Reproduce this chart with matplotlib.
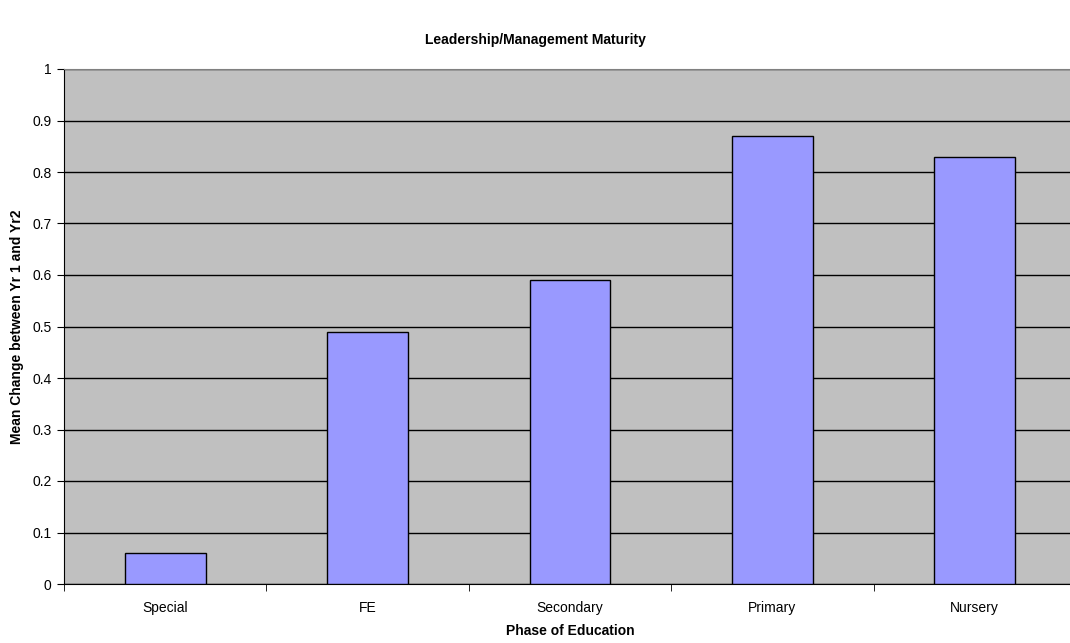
import numpy as np
import matplotlib
matplotlib.use("Agg")
import matplotlib.pyplot as plt

categories = ["Special", "FE", "Secondary", "Primary", "Nursery"]
values = [0.06, 0.49, 0.59, 0.87, 0.83]

plt.rcParams['font.family'] = ['Liberation Sans', 'DejaVu Sans']

fig = plt.figure(figsize=(10.7, 6.43), dpi=100)
ax = fig.add_axes([64 / 1070, 59 / 643, 1012 / 1070, 515 / 643])
ax.set_facecolor("#c0c0c0")

x = np.arange(len(categories))
ax.bar(x, values, width=0.4, color="#9999ff", edgecolor="black", linewidth=1, zorder=3)

ax.set_xlim(-0.5, len(categories) - 0.5)
ax.set_ylim(0, 1)
ax.set_yticks(np.arange(0, 1.01, 0.1))
ax.set_yticklabels(["0"] + [f"{v:.1f}" for v in np.arange(0.1, 0.95, 0.1)] + ["1"], fontsize=10)
ax.yaxis.grid(True, color="black", linewidth=1, zorder=1)

# category labels centered, ticks at boundaries
ax.set_xticks(x)
ax.set_xticklabels(categories, fontsize=10)
ax.tick_params(axis="x", length=0, pad=12)
ax.set_xticks(np.arange(-0.5, len(categories), 1.0), minor=True)
ax.tick_params(axis="x", which="minor", length=5, direction="out", color="black")
ax.tick_params(axis="y", length=5, direction="out", pad=4)

ax.spines["right"].set_visible(False)
ax.spines["top"].set_color("#808080")
ax.spines["left"].set_color("black")
ax.spines["bottom"].set_color("black")

ax.set_xlabel("Phase of Education", fontsize=10, fontweight="bold", labelpad=7)
ax.set_ylabel("Mean Change between Yr 1 and Yr2", fontsize=10, fontweight="bold", labelpad=6)
fig.text(0.5, 1 - 40 / 643, "Leadership/Management Maturity", ha="center", va="center",
         fontsize=10, fontweight="bold")

fig.savefig("out.png", dpi=100)
